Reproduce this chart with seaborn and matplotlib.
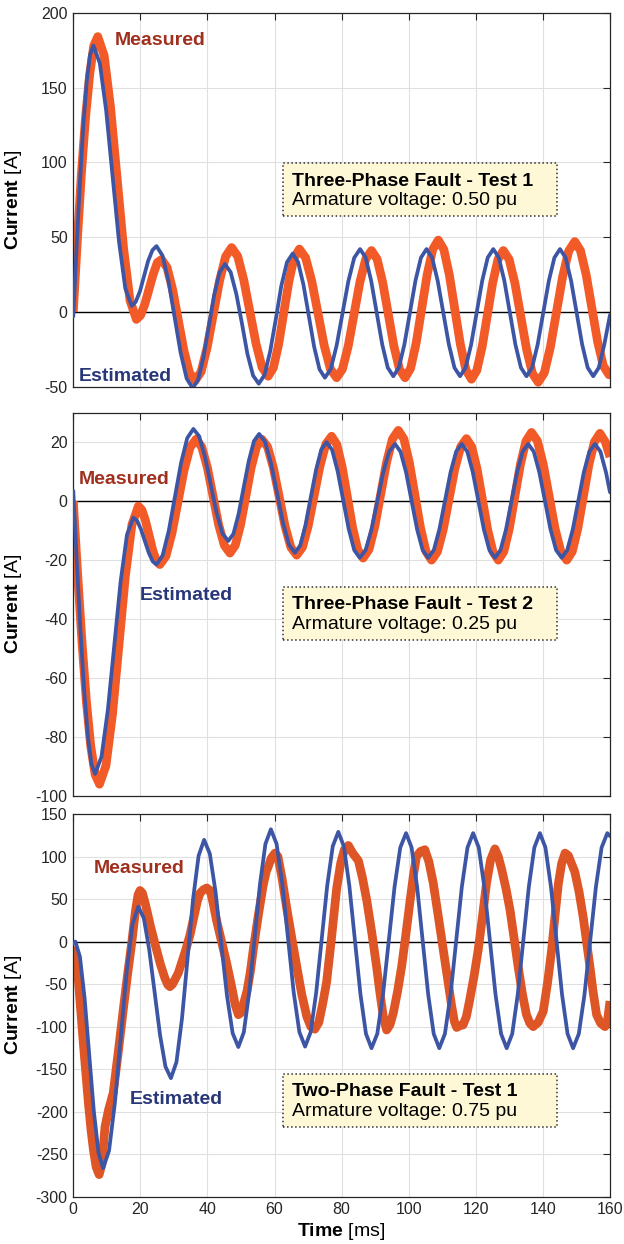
import matplotlib
matplotlib.use("Agg")
import matplotlib.pyplot as plt
from matplotlib.patches import Rectangle
import seaborn as sns
import pandas as pd

# ---------------- data ----------------
# Panel 1: Three-Phase Fault - Test 1
p1_est_t = [0, 1, 2, 3, 4, 5, 6.0,
            7.9, 9.8, 11.7, 13.6, 15.5, 17.4,
            18.6, 19.9, 21.1, 22.3, 23.6, 24.8,
            26.6, 28.4, 30.2, 32.0, 33.8, 35.6,
            37.2, 38.8, 40.4, 42.0, 43.6, 45.2,
            46.9, 48.6, 50.3, 51.9, 53.6, 55.3,
            57.0, 58.7, 60.4, 62.0, 63.7, 65.4,
            67.0, 68.6, 70.2, 71.8, 73.4, 75.0,
            76.75, 78.5, 80.25, 82.0, 83.75, 85.5,
            87.15, 88.8, 90.45, 92.1, 93.75, 95.4,
            97.05, 98.7, 100.35, 102.0, 103.65, 105.3,
            106.97, 108.63, 110.3, 111.97, 113.63, 115.3,
            116.95, 118.6, 120.25, 121.9, 123.55, 125.2,
            126.85, 128.5, 130.15, 131.8, 133.45, 135.1,
            136.77, 138.43, 140.1, 141.77, 143.43, 145.1,
            146.75, 148.4, 150.05, 151.7, 153.35, 155.0,
            156.65, 158.3, 160.0]
p1_est_i = [-3, 44, 87.5, 125, 154, 172, 178,
            166.3, 134.5, 91, 47.5, 15.7, 4,
            6.7, 14, 24, 34, 41.3, 44,
            37.6, 20.3, -3.5, -27.3, -44.6, -51,
            -45.4, -30.3, -9.5, 11.3, 26.4, 32,
            26.6, 12, -8, -28, -42.6, -48,
            -42.2, -26.3, -4.5, 17.3, 33.2, 39,
            33.4, 18.3, -2.5, -23.3, -38.4, -44,
            -38.2, -22.5, -1, 20.5, 36.2, 42,
            36.3, 20.8, -0.5, -21.8, -37.3, -43,
            -37.3, -21.8, -0.5, 20.8, 36.3, 42,
            36.3, 20.8, -0.5, -21.8, -37.3, -43,
            -37.3, -21.8, -0.5, 20.8, 36.3, 42,
            36.3, 20.8, -0.5, -21.8, -37.3, -43,
            -37.3, -21.8, -0.5, 20.8, 36.3, 42,
            36.3, 20.8, -0.5, -21.8, -37.3, -43,
            -37.3, -21.8, -2]
p1_meas_t = [0, 1.2, 2.4, 3.65, 4.9, 6.1, 7.3,
             9.2, 11.1, 13.05, 15.0, 16.9, 18.8,
             20.05, 21.3, 22.55, 23.8, 25.05, 26.3,
             27.97, 29.63, 31.3, 32.97, 34.63, 36.3,
             38.1, 39.9, 41.75, 43.6, 45.4, 47.2,
             49.0, 50.8, 52.65, 54.5, 56.3, 58.1,
             59.65, 61.2, 62.75, 64.3, 65.85, 67.4,
             69.25, 71.1, 72.95, 74.8, 76.65, 78.5,
             80.23, 81.97, 83.7, 85.43, 87.17, 88.9,
             90.57, 92.23, 93.9, 95.57, 97.23, 98.9,
             100.55, 102.2, 103.85, 105.5, 107.15, 108.8,
             110.45, 112.1, 113.75, 115.4, 117.05, 118.7,
             120.28, 121.87, 123.45, 125.03, 126.62, 128.2,
             129.93, 131.67, 133.4, 135.13, 136.87, 138.6,
             140.42, 142.23, 144.05, 145.87, 147.68, 149.5,
             151.2, 152.9, 154.6, 156.3, 158.0, 159.7, 160.0]
p1_meas_i = [0, 47.6, 92, 130, 159, 178, 184,
             171.3, 136.8, 89.5, 42.3, 7.7, -5,
             -2.3, 5, 15, 25, 33, 35,
             29.6, 14.8, -5.5, -25.8, -40.6, -46,
             -40, -23.8, -1.5, 20.8, 37, 43,
             37.2, 21.5, 0, -21.5, -37.2, -43,
             -37.3, -21.8, -0.5, 20.8, 36.3, 42,
             36.2, 20.5, -1, -22.5, -38.2, -44,
             -38.3, -22.8, -1.5, 19.8, 35.3, 41,
             35.3, 19.8, -1.5, -22.8, -38.3, -44,
             -37.8, -21, 2, 25, 41.8, 48,
             41.8, 24.8, 1.5, -21.8, -38.8, -45,
             -39.2, -23.5, -2, 19.5, 35.2, 41,
             35.1, 19, -3, -25, -41.1, -47,
             -40.7, -23.5, 0, 23.5, 40.7, 47,
             41, 24.8, 2.5, -19.8, -36, -42, -42]

# Panel 2: Three-Phase Fault - Test 2
p2_est_t = [0, 1.08, 2.17, 3.25, 4.33, 5.42, 6.5,
            8.4, 10.3, 12.2, 14.1, 16.0, 17.9,
            19.05, 20.2, 21.35, 22.5, 23.65, 24.8,
            26.63, 28.47, 30.3, 32.13, 33.97, 35.8,
            37.53, 39.27, 41.0, 42.73, 44.47, 46.2,
            47.73, 49.27, 50.8, 52.33, 53.87, 55.4,
            57.18, 58.97, 60.75, 62.53, 64.32, 66.1,
            67.67, 69.23, 70.8, 72.37, 73.93, 75.5,
            77.15, 78.8, 80.45, 82.1, 83.75, 85.4,
            87.15, 88.9, 90.65, 92.4, 94.15, 95.9,
            97.55, 99.2, 100.85, 102.5, 104.15, 105.8,
            107.47, 109.13, 110.8, 112.47, 114.13, 115.8,
            117.45, 119.1, 120.75, 122.4, 124.05, 125.7,
            127.35, 129.0, 130.65, 132.3, 133.95, 135.6,
            137.27, 138.93, 140.6, 142.27, 143.93, 145.6,
            147.25, 148.9, 150.55, 152.2, 153.85, 155.5,
            157.15, 158.8, 160.0]
p2_est_i = [3.5, -21.4, -44.5, -64.4, -79.6, -89.2, -92.5,
            -86.7, -70.8, -49.1, -27.3, -11.4, -5.6,
            -6.7, -9.6, -13.6, -17.5, -20.4, -21.5,
            -18.4, -10, 1.5, 13, 21.4, 24.5,
            22, 15, 5.5, -4, -11, -13.5,
            -11.1, -4.4, 4.7, 13.7, 20.4, 22.8,
            20.1, 12.7, 2.7, -7.4, -14.8, -17.5,
            -15, -8.1, 1.3, 10.6, 17.5, 20,
            17.4, 10.2, 0.4, -9.4, -16.6, -19.2,
            -16.6, -9.6, 0.1, 9.8, 16.8, 19.4,
            16.8, 9.8, 0.1, -9.6, -16.6, -19.2,
            -16.6, -9.6, 0.1, 9.8, 16.8, 19.4,
            16.8, 9.8, 0.1, -9.6, -16.6, -19.2,
            -16.6, -9.6, 0.1, 9.8, 16.8, 19.4,
            16.8, 9.8, 0.1, -9.6, -16.6, -19.2,
            -16.6, -9.6, 0.1, 9.8, 16.8, 19.4,
            16.8, 9.8, 3]
p2_meas_t = [0, 1.3, 2.6, 3.9, 5.2, 6.5, 7.8,
             9.73, 11.67, 13.6, 15.53, 17.47, 19.4,
             20.47, 21.53, 22.6, 23.67, 24.73, 25.8,
             27.6, 29.4, 31.2, 33.0, 34.8, 36.6,
             38.28, 39.97, 41.65, 43.33, 45.02, 46.7,
             48.28, 49.87, 51.45, 53.03, 54.62, 56.2,
             57.93, 59.67, 61.4, 63.13, 64.87, 66.6,
             68.33, 70.07, 71.8, 73.53, 75.27, 77.0,
             78.57, 80.13, 81.7, 83.27, 84.83, 86.4,
             88.15, 89.9, 91.65, 93.4, 95.15, 96.9,
             98.55, 100.2, 101.85, 103.5, 105.15, 106.8,
             108.53, 110.27, 112.0, 113.73, 115.47, 117.2,
             118.78, 120.37, 121.95, 123.53, 125.12, 126.7,
             128.35, 130.0, 131.65, 133.3, 134.95, 136.6,
             138.35, 140.1, 141.85, 143.6, 145.35, 147.1,
             148.75, 150.4, 152.05, 153.7, 155.35, 157.0,
             158.65, 160.0]
p2_meas_i = [0, -24.9, -48, -67.9, -83.1, -92.7, -96,
             -89.7, -72.4, -48.9, -25.3, -8, -1.7,
             -3, -6.7, -11.6, -16.6, -20.2, -21.5,
             -18.7, -10.9, -0.3, 10.4, 18.2, 21,
             18.4, 11.4, 1.7, -8, -15, -17.6,
             -15, -8, 1.7, 11.4, 18.4, 21,
             18.4, 11.2, 1.4, -8.5, -15.7, -18.3,
             -15.6, -8.2, 1.9, 11.9, 19.3, 22,
             19.2, 11.7, 1.4, -9, -16.5, -19.3,
             -16.4, -8.5, 2.4, 13.2, 21.1, 24,
             21.1, 13, 2, -9, -17.1, -20,
             -17.2, -9.7, 0.6, 10.9, 18.4, 21.2,
             18.4, 10.9, 0.6, -9.7, -17.2, -20,
             -17.1, -9.2, 1.7, 12.5, 20.4, 23.3,
             20.4, 12.5, 1.7, -9.2, -17.1, -20,
             -17.1, -9.3, 1.5, 12.3, 20.1, 23,
             20, 15]

# Panel 3: Two-Phase Fault - Test 1
p3_est_t = [0, 0.6, 1.98, 3.37, 4.75, 6.13, 7.52, 8.9,
            10.65, 12.4, 14.15, 15.9, 17.65, 19.4,
            21.02, 22.63, 24.25, 25.87, 27.48, 29.1,
            30.75, 32.4, 34.05, 35.7, 37.35, 39.0,
            40.7, 42.4, 44.1, 45.8, 47.5, 49.2,
            50.82, 52.43, 54.05, 55.67, 57.28, 58.9,
            60.6, 62.3, 64.0, 65.7, 67.4, 69.1,
            70.75, 72.4, 74.05, 75.7, 77.35, 79.0,
            80.65, 82.3, 83.95, 85.6, 87.25, 88.9,
            90.62, 92.33, 94.05, 95.77, 97.48, 99.2,
            100.85, 102.5, 104.15, 105.8, 107.45, 109.1,
            110.78, 112.47, 114.15, 115.83, 117.52, 119.2,
            120.87, 122.53, 124.2, 125.87, 127.53, 129.2,
            130.85, 132.5, 134.15, 135.8, 137.45, 139.1,
            140.75, 142.4, 144.05, 145.7, 147.35, 149.0,
            150.7, 152.4, 154.1, 155.8, 157.5, 159.2, 160.0]
p3_est_i = [-2, 0, -17.9, -66.6, -133.3, -199.9, -248.6, -266.5,
            -245.9, -189.6, -112.8, -35.9, 20.4, 41,
            27.5, -9.4, -59.8, -110.2, -147.1, -160.6,
            -141.8, -90.6, -20.5, 49.6, 100.8, 119.6,
            103.3, 58.7, -2.2, -63.1, -107.7, -124,
            -106.8, -60, 4, 68, 114.8, 132,
            114.9, 68.1, 4.3, -59.6, -106.4, -123.5,
            -106.6, -60.4, 2.8, 65.9, 112.1, 129,
            112, 65.4, 1.8, -61.8, -108.4, -125.4,
            -108.5, -62.2, 1.1, 64.3, 110.6, 127.5,
            110.6, 64.3, 1.1, -62.2, -108.5, -125.4,
            -108.5, -62.2, 1.1, 64.3, 110.6, 127.5,
            110.6, 64.3, 1.1, -62.2, -108.5, -125.4,
            -108.5, -62.2, 1.1, 64.3, 110.6, 127.5,
            110.6, 64.3, 1.1, -62.2, -108.5, -125.4,
            -108.5, -62.2, 1.1, 64.3, 110.6, 127.5, 124]
p3_meas_t = [0, 0.7, 1.5, 2.3, 3.0, 3.8, 4.5, 5.3, 6.0, 6.8, 7.7,
             8.5, 9.45, 10.5, 11.9, 13.4, 14.9, 16.2, 17.4, 18.5, 19.3, 19.9,
             20.6, 21.5, 23.0, 24.5, 26.0, 27.3, 28.2, 28.8,
             29.6, 30.5, 31.3, 32.2, 33.5, 34.8, 36.0, 37.0, 37.8, 38.8, 39.8,
             40.8, 41.7, 42.7, 44.2, 45.7, 47.2, 48.3, 49.2,
             49.9, 50.7, 51.8, 52.8, 53.7, 55.2, 56.6, 57.5, 58.1, 59.0, 60.1,
             61.0, 62.2, 63.6, 65.1, 66.6, 68.1, 69.6, 70.8, 72.0,
             73.2, 74.4, 75.5, 77.0, 78.5, 79.7, 80.8, 82.0,
             83.3, 85.0, 86.2, 87.5, 89.0, 90.4, 91.4, 92.4, 93.4,
             94.4, 95.4, 96.7, 97.9, 99.2, 100.4, 101.4, 102.3, 103.5, 104.8,
             106.0, 107.3, 108.8, 110.3, 111.6, 112.8, 113.6, 114.3,
             115.2, 116.2, 117.2, 118.2, 119.5, 120.7, 122.0, 123.2, 124.4, 125.7,
             126.7, 127.7, 129.0, 130.2, 131.4, 132.6, 133.9, 135.1, 136.1, 137.1,
             138.6, 140.1, 141.4, 142.6, 143.6, 144.6, 145.6, 146.6,
             147.6, 148.5, 149.5, 150.8, 152.0, 153.0, 154.0, 155.0, 156.0, 157.2, 158.5,
             159.3, 160.0]
p3_meas_i = [-6, -15, -45, -85, -120, -158, -190, -222, -245, -265, -274,
             -262, -218, -198, -178, -130, -80, -38, -2, 35, 55, 60,
             57, 44, 18, -5, -27, -43, -51, -53,
             -50, -43, -37, -26, -10, 8, 30, 48, 57, 61, 63,
             60, 45, 25, 0, -25, -53, -75, -86,
             -84, -74, -58, -35, -8, 32, 66, 82, 88, 98, 104,
             100, 75, 40, 5, -29, -62, -88, -100, -103,
             -95, -72, -48, 5, 62, 92, 108, 113,
             104, 95, 75, 48, 10, -29, -60, -88, -104,
             -98, -84, -58, -29, 10, 48, 78, 100, 106, 108,
             94, 69, 30, -10, -45, -76, -94, -101,
             -99, -98, -88, -68, -40, -10, 30, 69, 96, 109,
             100, 85, 62, 37, 4, -29, -62, -86, -96, -100,
             -95, -82, -48, -10, 30, 68, 92, 104,
             101, 92, 82, 58, 29, 0, -29, -60, -86, -96, -100,
             -92, -70]

panel_titles = ["Three-Phase Fault - Test 1", "Three-Phase Fault - Test 2",
                "Two-Phase Fault - Test 1"]
panel_subtitles = ["Armature voltage: 0.50 pu", "Armature voltage: 0.25 pu",
                   "Armature voltage: 0.75 pu"]
ylims = [(-50, 200), (-100, 30), (-300, 150)]
yticks = [[-50, 0, 50, 100, 150, 200],
          [-100, -80, -60, -40, -20, 0, 20],
          [-300, -250, -200, -150, -100, -50, 0, 50, 100, 150]]
xticks = [0, 20, 40, 60, 80, 100, 120, 140, 160]

# ---------------- style ----------------
sns.set_style("white")
plt.rcParams['font.family'] = ['Liberation Sans', 'DejaVu Sans']
plt.rcParams['mathtext.fontset'] = 'custom'
plt.rcParams['mathtext.rm'] = 'Liberation Sans'
plt.rcParams['mathtext.bf'] = 'Liberation Sans:bold'
plt.rcParams['axes.unicode_minus'] = False

W, H = 624, 1244
fig = plt.figure(figsize=(W / 100, H / 100), dpi=100)

def fx(px):
    return px / W

def fy(py):
    return 1 - py / H

# axes frames in pixels: (top, bottom)
frames = [(12.7, 386.7), (412.7, 796.0), (814.0, 1196.7)]
left_px, right_px = 73.3, 610.0

series = [(p1_meas_t, p1_meas_i, p1_est_t, p1_est_i),
          (p2_meas_t, p2_meas_i, p2_est_t, p2_est_i),
          (p3_meas_t, p3_meas_i, p3_est_t, p3_est_i)]
meas_colors = ['#F25A28', '#F25A28', '#DE5526']
est_color = '#3C55A5'
meas_txt_color = '#A0301E'
est_txt_color = '#283778'

# label positions (data coords, baseline)
meas_lbl = [(12.4, 178.5), (1.5, 5.8), (6.0, 80.4)]
est_lbl = [(1.5, -45.9), (19.7, -33.6), (16.9, -190.8)]
box_tops = [163.0, 586.7, 1074.0]

axes = []
for k, (top, bot) in enumerate(frames):
    ax = fig.add_axes([fx(left_px), fy(bot), fx(right_px) - fx(left_px), (bot - top) / H])
    axes.append(ax)
    mt, mi, et, ei = series[k]
    dfm = pd.DataFrame({'t': mt, 'i': mi})
    dfe = pd.DataFrame({'t': et, 'i': ei})
    ax.axhline(0, color='black', lw=1.0, zorder=1)
    sns.lineplot(data=dfm, x='t', y='i', ax=ax, sort=False, estimator=None,
                 color=meas_colors[k], lw=6.3, zorder=2, solid_joinstyle='round',
                 solid_capstyle='butt')
    sns.lineplot(data=dfe, x='t', y='i', ax=ax, sort=False, estimator=None,
                 color=est_color, lw=2.7, zorder=3, solid_joinstyle='round')
    ax.set_xlim(0, 160)
    ax.set_ylim(*ylims[k])
    ax.set_xticks(xticks)
    ax.set_yticks(yticks[k])
    ax.grid(True, color='#E0E0E0', lw=0.8)
    ax.set_axisbelow(True)
    for s in ax.spines.values():
        s.set_color('#262626')
        s.set_linewidth(0.9)
        s.set_visible(True)
    ax.tick_params(direction='in', top=True, right=True, length=5, width=0.8,
                   colors='#262626', labelsize=11.5, pad=4)
    if k < 2:
        ax.set_xticklabels([])
        ax.set_xlabel('')
    else:
        ax.set_xlabel(r'$\bf{Time}$ [ms]', fontsize=14, color='black')
        ax.xaxis.label.set_va('baseline')
        ax.xaxis.set_label_coords(0.5, (bot - 1236.5) / (bot - top))
    ax.set_ylabel(r'$\bf{Current}$ [A]', fontsize=14, color='black')
    ax.yaxis.set_label_coords((24 - left_px) / (right_px - left_px), 0.5)
    ax.text(meas_lbl[k][0], meas_lbl[k][1], 'Measured', color=meas_txt_color,
            fontsize=14, fontweight='bold', ha='left', va='baseline', zorder=5)
    ax.text(est_lbl[k][0], est_lbl[k][1], 'Estimated', color=est_txt_color,
            fontsize=14, fontweight='bold', ha='left', va='baseline', zorder=5)

    # annotation box
    bt = box_tops[k]
    rect = Rectangle((fx(282.5), fy(bt + 53)), fx(557) - fx(282.5), 53 / H,
                     transform=fig.transFigure, facecolor='#FFF8D6',
                     edgecolor='#333333', linestyle=':', linewidth=1.1, zorder=10)
    fig.add_artist(rect)
    fig.text(fx(292.5), fy(bt + 22.5), panel_titles[k], fontsize=14,
             fontweight='bold', color='black', ha='left', va='baseline', zorder=11)
    fig.text(fx(292.5), fy(bt + 42), panel_subtitles[k], fontsize=14,
             color='black', ha='left', va='baseline', zorder=11)

fig.savefig('out.png', dpi=100)
